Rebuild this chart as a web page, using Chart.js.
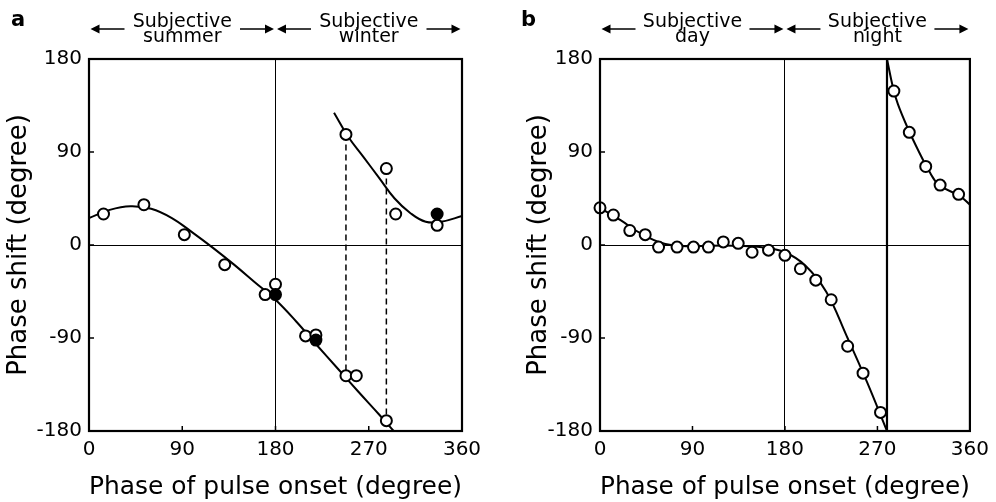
<!DOCTYPE html>
<html>
<head>
<meta charset="utf-8">
<script src="https://cdn.jsdelivr.net/npm/chart.js@4.4.1/dist/chart.umd.min.js"></script>
<style>
  html, body { margin: 0; padding: 0; background: #fff; }
  #wrap { position: relative; width: 996px; height: 502px; }
  .panel { position: absolute; top: 0; width: 498px; height: 502px; }
  #panelA { left: 0; }
  #panelB { left: 498px; }
</style>
</head>
<body>
<div id="wrap">
  <div class="panel" id="panelA"><canvas id="chartA" width="498" height="502"></canvas></div>
  <div class="panel" id="panelB"><canvas id="chartB" width="498" height="502"></canvas></div>
</div>
<script>
// Axis ticks (degrees)
const xTickValues = [0, 90, 180, 270, 360];
const yTickValues = [-180, -90, 0, 90, 180];

// Panel a: subjective summer / winter
const regionStartsA = [0, 180];
const regionEndsA = [180, 360];
const regionLabelsA = [['Subjective', 'summer'], ['Subjective', 'winter']];

// open circles [phase, shift]
const openPointsA = [
  [14, 30], [53, 39], [92, 10], [131, -19], [170, -48], [180, -38],
  [209, -88], [219, -87], [248, -126.5], [258, -126.5], [287, -170],
  [248, 107], [287, 74], [296, 30], [336, 19]
];
// filled circles
const filledPointsA = [[180, -48], [219, -92], [336, 30]];

// fitted curves
const summerCurveA = [
  [0, 26], [20, 34], [40, 37.5], [60, 35], [80, 26], [100, 12], [120, -3],
  [140, -19], [160, -36], [180, -53], [200, -74], [220, -97], [240, -119.5],
  [260, -142], [280, -164], [294, -180]
];
const winterCurveA = [
  [236.5, 128], [250, 105], [265, 85], [280, 65], [295, 45], [310, 31],
  [325, 22.5], [340, 22.5], [360, 28]
];

// dashed connectors between the two branches
const dashedXA = [248, 287];
const dashedTopA = [107, 74];
const dashedBottomA = [-126.5, -170];

// Panel b: subjective day / night
const regionStartsB = [0, 180];
const regionEndsB = [180, 360];
const regionLabelsB = [['Subjective', 'day'], ['Subjective', 'night']];

const openPointsB = [
  [0, 36], [13, 29], [29, 14], [44, 10], [57, -2], [75, -2], [91, -2],
  [105.5, -2], [120, 3], [134.5, 1.6], [148, -7], [164, -5], [180, -10],
  [195, -23], [210, -34], [225, -53], [241, -98], [256, -124], [273, -162],
  [286, 149], [301, 109], [317, 76], [331, 58], [349, 49]
];

const delayCurveB = [
  [0, 36], [20, 24], [40, 11], [60, 2], [80, -1], [100, -1], [120, -0.5],
  [140, -1], [160, -2.5], [180, -7], [200, -20], [220, -45], [240, -88],
  [260, -133], [279.3, -180]
];
const advanceCurveB = [
  [279.3, 180], [285, 153], [290, 136], [300, 112], [310, 91], [320, 72],
  [330, 58], [350, 47.5], [360, 39]
];

const toXY = arr => arr.map(p => ({ x: p[0], y: p[1] }));

Chart.defaults.font.family = '"DejaVu Sans", sans-serif';
Chart.defaults.color = '#000';

// frame, inward ticks, panel letter and the region headers with arrows
const framePlugin = {
  id: 'framePlugin',
  afterDraw(chart, args, opts) {
    const { ctx, chartArea: a } = chart;
    const x = chart.scales.x, y = chart.scales.y;
    ctx.save();
    ctx.strokeStyle = '#000';
    ctx.fillStyle = '#000';

    // inward ticks
    ctx.lineWidth = 1.5;
    ctx.beginPath();
    x.ticks.forEach(t => {
      if (t.value <= x.min || t.value >= x.max) return;
      const px = x.getPixelForValue(t.value);
      ctx.moveTo(px, a.bottom);
      ctx.lineTo(px, a.bottom - 5);
    });
    y.ticks.forEach(t => {
      if (t.value <= y.min || t.value >= y.max) return;
      const py = y.getPixelForValue(t.value);
      ctx.moveTo(a.left, py);
      ctx.lineTo(a.left + 5, py);
    });
    ctx.stroke();

    // box
    ctx.lineWidth = 2.2;
    ctx.strokeRect(a.left, a.top, a.right - a.left, a.bottom - a.top);

    // panel letter
    ctx.font = 'bold 21px "DejaVu Sans"';
    ctx.textAlign = 'left';
    ctx.textBaseline = 'alphabetic';
    ctx.fillText(opts.letter, opts.letterX, 26);

    // region headers
    ctx.font = '19px "DejaVu Sans"';
    ctx.textAlign = 'center';
    const ay = 29, len = 34, head = 9, hw = 4.5;
    opts.starts.forEach((s, i) => {
      const x0 = x.getPixelForValue(s) + 1.5;
      const x1 = x.getPixelForValue(opts.ends[i]) - 1.5;
      const cx = x.getPixelForValue((s + opts.ends[i]) / 2);
      ctx.fillText(opts.labels[i][0], cx, 27);
      ctx.fillText(opts.labels[i][1], cx, 42);

      ctx.lineWidth = 1.5;
      ctx.beginPath();
      ctx.moveTo(x0 + head - 1, ay); ctx.lineTo(x0 + len, ay);
      ctx.moveTo(x1 - len, ay); ctx.lineTo(x1 - head + 1, ay);
      ctx.stroke();

      ctx.beginPath();
      ctx.moveTo(x0, ay); ctx.lineTo(x0 + head, ay - hw); ctx.lineTo(x0 + head, ay + hw); ctx.closePath();
      ctx.moveTo(x1, ay); ctx.lineTo(x1 - head, ay - hw); ctx.lineTo(x1 - head, ay + hw); ctx.closePath();
      ctx.fill();
    });
    ctx.restore();
  }
};

function scalesFor(yWidth, yTitlePad) {
  return {
    x: {
      type: 'linear', min: 0, max: 360,
      afterBuildTicks: s => { s.ticks = xTickValues.map(v => ({ value: v })); },
      grid: {
        drawTicks: false, lineWidth: 1,
        color: c => (c.tick && c.tick.value === 180) ? '#000' : 'rgba(0,0,0,0)'
      },
      border: { display: false },
      ticks: { padding: 7, font: { size: 20 }, maxRotation: 0, autoSkip: false, color: '#000' },
      title: { display: true, text: 'Phase of pulse onset (degree)', font: { size: 25 }, color: '#000', padding: 0 },
      afterFit: s => { s.height = 71; }
    },
    y: {
      type: 'linear', min: -180, max: 180,
      afterBuildTicks: s => { s.ticks = yTickValues.map(v => ({ value: v })); },
      grid: {
        drawTicks: false, lineWidth: 1,
        color: c => (c.tick && c.tick.value === 0) ? '#000' : 'rgba(0,0,0,0)'
      },
      border: { display: false },
      ticks: { padding: 7, font: { size: 20 }, autoSkip: false, color: '#000' },
      title: { display: true, text: 'Phase shift (degree)', font: { size: 26 }, color: '#000', padding: { top: yTitlePad, bottom: 0 } },
      afterFit: s => { s.width = yWidth; }
    }
  };
}

const openStyle = {
  type: 'scatter', showLine: false, pointRadius: 5.5, pointHoverRadius: 5.5,
  pointBackgroundColor: '#fff', pointBorderColor: '#000', pointBorderWidth: 2, clip: false
};
const curveStyle = {
  type: 'line', borderColor: '#000', borderWidth: 2, pointRadius: 0,
  tension: 0.4, fill: false
};

// panel a
const dashedSetsA = dashedXA.map((dx, i) => ({
  type: 'line', borderColor: '#000', borderWidth: 1.5, borderDash: [6, 4],
  pointRadius: 0, tension: 0, fill: false,
  data: [{ x: dx, y: dashedTopA[i] }, { x: dx, y: dashedBottomA[i] }]
}));

new Chart(document.getElementById('chartA'), {
  type: 'scatter',
  data: {
    datasets: [
      Object.assign({}, openStyle, { data: toXY(filledPointsA), pointBackgroundColor: '#000' }),
      Object.assign({}, openStyle, { data: toXY(openPointsA) }),
      Object.assign({}, curveStyle, { data: toXY(summerCurveA) }),
      Object.assign({}, curveStyle, { data: toXY(winterCurveA) }),
      ...dashedSetsA
    ]
  },
  options: {
    responsive: false, animation: false,
    layout: { padding: { left: 0, top: 59, right: 36, bottom: 0 } },
    plugins: {
      legend: { display: false }, tooltip: { enabled: false },
      framePlugin: { letter: 'a', letterX: 11, starts: regionStartsA, ends: regionEndsA, labels: regionLabelsA }
    },
    scales: scalesFor(89, 4)
  },
  plugins: [framePlugin]
});

// panel b: the curve wraps from -180 to +180 at the jump phase
const jumpB = [delayCurveB[delayCurveB.length - 1], advanceCurveB[0]];

new Chart(document.getElementById('chartB'), {
  type: 'scatter',
  data: {
    datasets: [
      Object.assign({}, openStyle, { data: toXY(openPointsB) }),
      Object.assign({}, curveStyle, { data: toXY(delayCurveB) }),
      Object.assign({}, curveStyle, { data: toXY(advanceCurveB) }),
      Object.assign({}, curveStyle, { data: toXY(jumpB), tension: 0, borderWidth: 2.2 })
    ]
  },
  options: {
    responsive: false, animation: false,
    layout: { padding: { left: 0, top: 59, right: 24, bottom: 0 } },
    plugins: {
      legend: { display: false }, tooltip: { enabled: false },
      framePlugin: { letter: 'b', letterX: 23, starts: regionStartsB, ends: regionEndsB, labels: regionLabelsB }
    },
    scales: scalesFor(102, 26)
  },
  plugins: [framePlugin]
});
</script>
</body>
</html>
